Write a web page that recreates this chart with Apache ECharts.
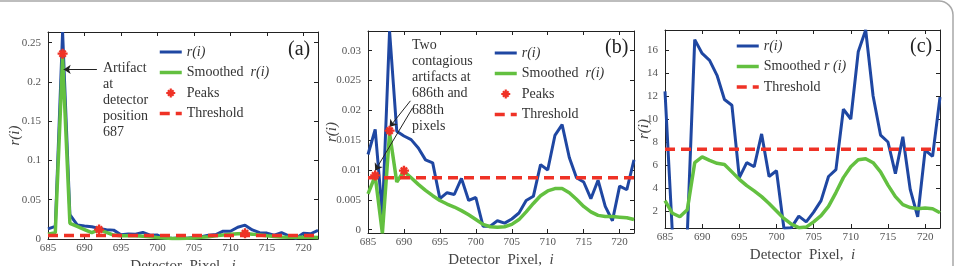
<!DOCTYPE html>
<html>
<head>
<meta charset="utf-8">
<script src="https://cdn.jsdelivr.net/npm/echarts@6.0.0/dist/echarts.min.js"></script>
<style>
  html, body { margin: 0; padding: 0; background: #fff; }
  #chart { width: 957px; height: 266px; }
</style>
</head>
<body>
<div id="chart"></div>
<script>
// detector pixels (shared x for all three panels)
var pixels = [685, 686, 687, 688, 689, 690, 691, 692, 693, 694, 695, 696, 697, 698, 699, 700, 701, 702, 703,
              704, 705, 706, 707, 708, 709, 710, 711, 712, 713, 714, 715, 716, 717, 718, 719, 720, 721, 722];

// panel (a)
var rawA = [0.0128, 0.016, 0.2636, 0.031, 0.018, 0.0166, 0.0157, 0.0135, 0.0118, 0.0113, 0.0055, 0.0063, 0.006,
            0.0085, 0.0048, 0.005, 0.0008, 0.0008, 0.0015, 0.0011, 0.0018, 0.0028, 0.0049, 0.0056, 0.0100, 0.0098,
            0.0150, 0.0176, 0.0115, 0.0080, 0.0075, 0.0050, 0.0080, 0.0040, 0.0010, 0.0074, 0.0067, 0.0110];
var smoothA = [0.006, 0.008, 0.231, 0.020, 0.016, 0.012, 0.008, 0.012, 0.0085, 0.005, 0.0042, 0.004, 0.004,
               0.0035, 0.003, 0.002, 0.0012, 0.0006, 0.0005, 0.0008, 0.0014, 0.0021, 0.003, 0.004, 0.005, 0.006,
               0.0068, 0.0069, 0.0062, 0.0052, 0.0041, 0.0032, 0.0026, 0.0022, 0.0022, 0.0022, 0.0021, 0.0018];
var peakPixA = [687, 692, 712];
var peakValA = [0.236, 0.012, 0.0072];
var thresholdA = 0.0045;

// panel (b)
var rawB = [0.0126, 0.0168, 0.0025, 0.0333, 0.0165, 0.0157, 0.0151, 0.0137, 0.0117, 0.0112, 0.0052, 0.0062, 0.0059,
            0.0086, 0.0049, 0.0054, 0.0006, 0.0006, 0.0015, 0.0011, 0.0018, 0.0028, 0.0049, 0.0056, 0.0109, 0.0100,
            0.0158, 0.0176, 0.0121, 0.0087, 0.0080, 0.0052, 0.0083, 0.0039, 0.0015, 0.0073, 0.0067, 0.0117];
var smoothB = [0.0060, 0.0090, -0.0006, 0.0162, 0.0080, 0.0098, 0.0087, 0.0076, 0.0066, 0.0057, 0.0049, 0.0043, 0.0038,
               0.0032, 0.0025, 0.0017, 0.0009, 0.0005, 0.0004, 0.0005, 0.0009, 0.0017, 0.0030, 0.0044, 0.0057, 0.0065,
               0.0069, 0.0069, 0.0062, 0.0051, 0.0039, 0.0030, 0.0024, 0.0022, 0.0022, 0.0021, 0.0020, 0.0017];
var peakPixB = [686, 688, 690];
var peakValB = [0.0091, 0.0166, 0.0099];
var thresholdB = 0.0087;

// panel (c)
var rawC = [12.4, 0, 0, 0, 16.9, 15.7, 15.1, 13.8, 11.7, 11.2, 4.9, 6.2, 5.85, 8.7, 5.0, 5.5, 0.5, 0.55, 1.55,
            1.05, 1.9, 2.9, 5.0, 5.6, 10.85, 10.0, 15.85, 17.74, 12.0, 8.6, 8.0, 5.25, 8.45, 3.85, 1.5, 7.3, 6.75, 11.9];
var smoothC = [2.9, 1.8, 1.5, 2.1, 6.2, 6.7, 6.4, 6.15, 6.05, 5.4, 4.75, 4.2, 3.75, 3.25, 2.65, 2.0, 1.35, 0.85, 0.55,
               0.6, 1.05, 1.6, 2.4, 3.6, 4.9, 5.85, 6.45, 6.55, 6.2, 5.4, 4.25, 3.25, 2.55, 2.3, 2.2, 2.25, 2.2, 1.85];
var thresholdC = 7.37;

var SERIF = 'Liberation Serif';
var BLUE = '#1f47a2', GREEN = '#63c040', RED = '#ef3226';
var STAR = 'path://M0,3.8 L10,3.8 L10,6.2 L0,6.2 Z M3.8,0 L6.2,0 L6.2,10 L3.8,10 Z M1,2.7 L2.7,1 L9,7.3 L7.3,9 Z M7.3,1 L9,2.7 L2.7,9 L1,7.3 Z';

function pairs(xs, ys) {
	return xs.map(function (x, k) { return [x, ys[k]]; });
}
function flat(xs, v) {
	return xs.map(function (x) { return [x, v]; });
}

var boxLine = { show: true, onZero: false, lineStyle: { color: '#222', width: 1 } };
var boxTick = { show: true, inside: true, length: 4, lineStyle: { color: '#222', width: 1 } };

function bottomAxis(g, gap) {
	return {
		type: 'value', gridIndex: g, position: 'bottom', min: 685, max: 722, interval: 5,
		axisLine: boxLine, axisTick: boxTick, splitLine: { show: false },
		axisLabel: { showMaxLabel: false, fontFamily: SERIF, fontSize: 11, color: '#555', margin: 4 },
		name: '{n|Detector  Pixel,  }{i|i}', nameLocation: 'middle', nameGap: gap,
		nameTextStyle: {
			fontFamily: SERIF, fontSize: 15, color: '#444',
			rich: { n: { fontFamily: SERIF, fontSize: 15, color: '#444' },
			        i: { fontFamily: SERIF, fontSize: 15, color: '#444', fontStyle: 'italic' } }
		}
	};
}
function topAxis(g) {
	return {
		type: 'value', gridIndex: g, position: 'top', min: 685, max: 722, interval: 5,
		axisLine: boxLine, axisTick: boxTick, splitLine: { show: false }, axisLabel: { show: false }
	};
}
function leftAxis(g, ext, gap) {
	var ax = {
		type: 'value', gridIndex: g, position: 'left', min: ext.min, max: ext.max,
		axisLine: boxLine, axisTick: boxTick, splitLine: { show: false },
		axisLabel: { showMinLabel: ext.hideMin, showMaxLabel: false, fontFamily: SERIF, fontSize: 11, color: '#555', margin: 7 },
		name: 'r(i)', nameLocation: 'middle', nameGap: gap, nameRotate: 90, nameMoveOverlap: false,
		nameTextStyle: { fontFamily: SERIF, fontSize: 15, color: '#444', fontStyle: 'italic' }
	};
	if (ext.interval) ax.interval = ext.interval;
	if (ext.step) { ax.minInterval = ext.step; ax.maxInterval = ext.step; ax.splitNumber = 6; }
	return ax;
}
function rightAxis(g, ext) {
	var ax = {
		type: 'value', gridIndex: g, position: 'right', min: ext.min, max: ext.max,
		axisLine: boxLine, axisTick: boxTick, splitLine: { show: false }, axisLabel: { show: false }
	};
	if (ext.interval) ax.interval = ext.interval;
	if (ext.step) { ax.minInterval = ext.step; ax.maxInterval = ext.step; ax.splitNumber = 6; }
	return ax;
}

var extA = { min: 0, max: 0.2636, interval: 0.05, hideMin: true };
var extB = { min: -0.00055, max: 0.0333, step: 0.005, hideMin: false };
var extC = { min: 0.52, max: 17.74, step: 2, hideMin: false };

function lineSeries(name, p, data, color, width, extra) {
	var s = {
		name: name, type: 'line', xAxisIndex: 2 * p, yAxisIndex: 2 * p, data: data,
		symbol: 'none', clip: true, silent: true,
		lineStyle: { color: color, width: width, type: 'solid' }, itemStyle: { color: color }
	};
	for (var k in extra) s[k] = extra[k];
	return s;
}
function peakSeries(p, xs, ys) {
	return {
		name: 'Peaks', type: 'scatter', xAxisIndex: 2 * p, yAxisIndex: 2 * p, data: pairs(xs, ys),
		symbol: STAR, symbolSize: 10, symbolKeepAspect: true, silent: true, z: 5,
		itemStyle: { color: RED, opacity: 1 }
	};
}
function arrow(from, to) {
	return {
		silent: true, symbol: ['none', 'arrow'], symbolSize: 7,
		label: { show: false }, lineStyle: { color: '#222', width: 1, type: 'solid' },
		data: [[{ coord: from }, { coord: to }]]
	};
}

var legendText = {
	fontFamily: SERIF, fontSize: 14, color: '#333', lineHeight: 16,
	rich: { it: { fontFamily: SERIF, fontSize: 14, color: '#333', fontStyle: 'italic', lineHeight: 16 } }
};
function legendFmt(name) {
	if (name === 'r(i)') return '{it|r(i)}';
	if (name === 'Smoothed r(i)') return 'Smoothed  {it|r(i)}';
	if (name === 'Smoothed r (i)') return 'Smoothed {it|r (i)}';
	return name;
}
// line entries: hide the default marker dot, keep only the line sample
function legendAt(left, top, names) {
	return {
		data: names.map(function (n) {
			return n === 'Peaks' ? { name: n } : { name: n, itemStyle: { opacity: 0 } };
		}),
		left: left, top: top, padding: 0, orient: 'vertical', itemWidth: 22, itemHeight: 9, itemGap: 4.5,
		selectedMode: false, formatter: legendFmt, textStyle: legendText,
		lineStyle: { width: 'inherit' }
	};
}

option = {
	animation: false,
	backgroundColor: '#fff',
	grid: [
		{ left: 48, top: 32, width: 270, height: 207, outerBoundsMode: 'none' },
		{ left: 368, top: 31, width: 266, height: 202, outerBoundsMode: 'none' },
		{ left: 665, top: 30, width: 275, height: 198, outerBoundsMode: 'none' }
	],
	xAxis: [bottomAxis(0, 16), topAxis(0), bottomAxis(1, 13), topAxis(1), bottomAxis(2, 11), topAxis(2)],
	yAxis: [leftAxis(0, extA, 25), rightAxis(0, extA), leftAxis(1, extB, 28), rightAxis(1, extB), leftAxis(2, extC, 13), rightAxis(2, extC)],
	legend: [
		legendAt(158, 44, ['r(i)', 'Smoothed r(i)', 'Peaks', 'Threshold']),
		legendAt(493, 45, ['r(i)', 'Smoothed r(i)', 'Peaks', 'Threshold']),
		legendAt(735, 38, ['r(i)', 'Smoothed r (i)', 'Threshold'])
	],
	series: [
		lineSeries('r(i)', 0, pairs(pixels, rawA), BLUE, 3, { markLine: arrow([691.7, 0.216], [687.15, 0.216]) }),
		lineSeries('Smoothed r(i)', 0, pairs(pixels, smoothA), GREEN, 3.5),
		lineSeries('Threshold', 0, flat(pixels, thresholdA), RED, 3.5, { lineStyle: { color: RED, width: 3.5, type: [10, 6] } }),
		peakSeries(0, peakPixA, peakValA),

		lineSeries('r(i)', 1, pairs(pixels, rawB), BLUE, 3, {
			markLine: {
				silent: true, symbol: ['none', 'arrow'], symbolSize: 7,
				label: { show: false }, lineStyle: { color: '#222', width: 1, type: 'solid' },
				data: [[{ coord: [690.9, 0.0216] }, { coord: [688.0, 0.0172] }],
				       [{ coord: [691.2, 0.0204] }, { coord: [686.0, 0.0099] }]]
			}
		}),
		lineSeries('Smoothed r(i)', 1, pairs(pixels, smoothB), GREEN, 3.5),
		lineSeries('Threshold', 1, flat(pixels, thresholdB), RED, 3.5, { lineStyle: { color: RED, width: 3.5, type: [10, 6] } }),
		peakSeries(1, peakPixB, peakValB),

		lineSeries('r(i)', 2, pairs(pixels, rawC), BLUE, 3),
		lineSeries('Smoothed r (i)', 2, pairs(pixels, smoothC), GREEN, 3.5),
		lineSeries('Threshold', 2, flat(pixels, thresholdC), RED, 3.5, { lineStyle: { color: RED, width: 3.5, type: [10, 6] } })
	],
	graphic: [
		// rounded frame of the figure
		{ type: 'rect', shape: { x: -30, y: 1, width: 983, height: 320, r: 14 }, style: { fill: null, stroke: '#a8a8a8', lineWidth: 1.5 }, silent: true },
		{ type: 'text', left: 103, top: 60, style: { text: 'Artifact\nat\ndetector\nposition\n687', font: '14px "Liberation Serif"', fill: '#333', lineHeight: 16 } },
		{ type: 'text', left: 412, top: 37, style: { text: 'Two\ncontagious\nartifacts at\n686th and\n688th\npixels', font: '14px "Liberation Serif"', fill: '#333', lineHeight: 16.2 } },
		{ type: 'text', left: 288, top: 40, style: { text: '(a)', font: '20px "Liberation Serif"', fill: '#222' } },
		{ type: 'text', left: 605, top: 38, style: { text: '(b)', font: '20px "Liberation Serif"', fill: '#222' } },
		{ type: 'text', left: 910, top: 37, style: { text: '(c)', font: '20px "Liberation Serif"', fill: '#222' } }
	]
};

var chart = echarts.init(document.getElementById('chart'), null, { renderer: 'canvas' });
chart.setOption(option);
</script>
</body>
</html>
